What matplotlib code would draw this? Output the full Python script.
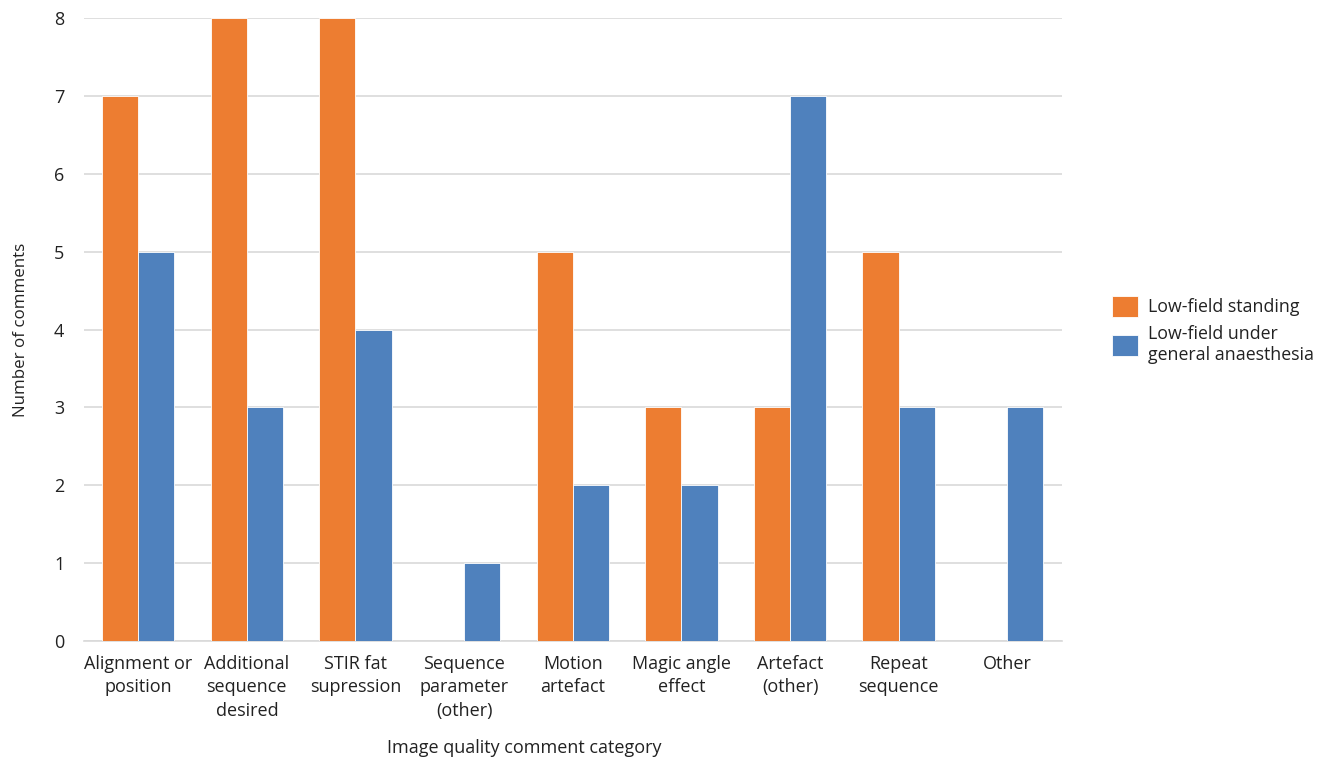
import matplotlib.pyplot as plt
import numpy as np

plt.rcParams['font.family'] = ['Open Sans', 'DejaVu Sans']

categories = ['Alignment or\nposition', 'Additional\nsequence\ndesired', 'STIR fat\nsupression',
              'Sequence\nparameter\n(other)', 'Motion\nartefact', 'Magic angle\neffect',
              'Artefact\n(other)', 'Repeat\nsequence', 'Other']
standing = [7, 8, 8, 0, 5, 3, 3, 5, 0]
anaesthesia = [5, 3, 4, 1, 2, 2, 7, 3, 3]
series_names = ['Low-field standing', 'Low-field under\ngeneral anaesthesia']

orange = '#ED7D31'
blue = '#4F81BD'

fig = plt.figure(figsize=(13.32, 7.63), dpi=100)
ax = fig.add_axes([0.063, 0.160, 0.734, 0.816])

x = np.arange(len(categories))
w = 0.333
ax.bar(x - w / 2, standing, width=w, color=orange, edgecolor='white', linewidth=0.6,
       label=series_names[0], zorder=3)
ax.bar(x + w / 2, anaesthesia, width=w, color=blue, edgecolor='white', linewidth=0.6,
       label=series_names[1], zorder=3)

ax.set_xlim(-0.5, len(categories) - 0.5)
ax.set_ylim(0, 8)
ax.set_yticks(range(0, 9))
ax.yaxis.grid(True, color='#D9D9D9', linewidth=1.2, zorder=0)
for s in ['top', 'right', 'left']:
    ax.spines[s].set_visible(False)
ax.spines['bottom'].set_color('#D9D9D9')
ax.spines['bottom'].set_linewidth(1.2)
ax.tick_params(axis='both', length=0, labelsize=13, colors='#222222')
ax.tick_params(axis='y', pad=14)
ax.tick_params(axis='x', pad=10)
ax.set_xticks(x)
ax.set_xticklabels(categories, linespacing=1.4)

ax.set_ylabel('Number of comments', fontsize=12.2, color='#222222', labelpad=18)
fig.text(524 / 1332, 1 - 748 / 763, 'Image quality comment category', ha='center', va='center',
         fontsize=13, color='#222222')

ax.legend(loc='center left', bbox_to_anchor=(1.035, 0.5), frameon=False, fontsize=12.8,
          handlelength=1.45, handleheight=1.45, labelspacing=0.45, handletextpad=0.6,
          labelcolor='#222222')

fig.savefig('out.png', dpi=100)
